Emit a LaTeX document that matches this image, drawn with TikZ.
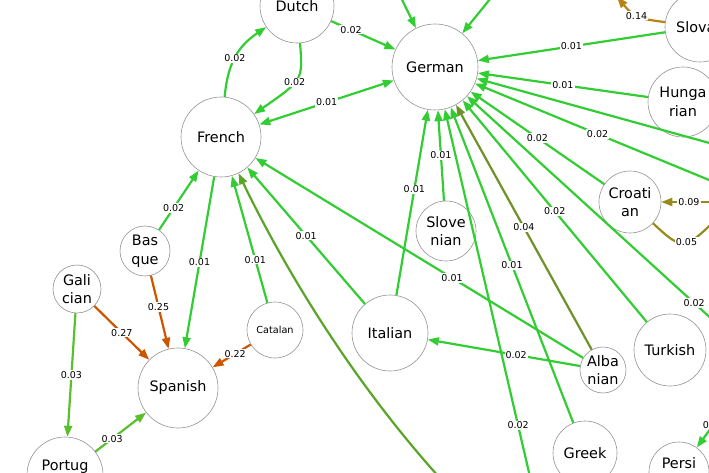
\documentclass[tikz,border=0pt]{standalone}
\usepackage{fontspec}
\setmainfont{DejaVu Sans}
\usetikzlibrary{arrows.meta}
\definecolor{lgrn}{RGB}{50,205,50}
\definecolor{pgrn}{RGB}{90,190,45}
\definecolor{dgrn}{RGB}{90,165,40}
\definecolor{olv}{RGB}{110,145,40}
\definecolor{olvb}{RGB}{150,140,30}
\definecolor{orng}{RGB}{204,85,0}
\definecolor{gold}{RGB}{185,130,20}

\begin{document}
\begin{tikzpicture}[x=1pt,y=-1pt,>={Triangle[length=11pt,width=8pt]},
    lang/.style={circle,draw=gray!85,line width=0.6pt,fill=white,inner sep=0pt,align=center,font=\fontsize{14.4}{18.5}\selectfont},
    small/.style={font=\fontsize{9.7}{11}\selectfont},
    lbl/.style={fill=white,inner sep=1pt,font=\fontsize{9.5}{11}\selectfont},
    e/.style={->,line width=2.2pt,draw=#1},e/.default=lgrn]
    \path[use as bounding box] (0,0) rectangle (709,473);
    \clip (0,0) rectangle (709,473);
    \node[lang,minimum size=74pt] (Dutch) at (297,6) {Dutch};
    \node[lang,minimum size=86pt] (German) at (435,67) {German};
    \node[lang,minimum size=80pt] (French) at (221,137) {French};
    \node[lang,minimum size=70pt] (Slovak) at (700,27) {Slovak};
    \node[lang,minimum size=70pt] (Hungarian) at (683,102) {Hunga\\rian};
    \node[lang,minimum size=62pt] (Croatian) at (630,202) {Croati\\an};
    \node[lang,minimum size=60pt] (Slovenian) at (446,231) {Slove\\nian};
    \node[lang,minimum size=76pt] (Italian) at (390,333) {Italian};
    \node[lang,minimum size=46pt] (Albanian) at (603,370) {Alba\\nian};
    \node[lang,minimum size=72pt] (Turkish) at (670,350) {Turkish};
    \node[lang,minimum size=64pt] (Greek) at (585,453) {Greek};
    \node[lang,minimum size=60pt] (Persian) at (679,472) {Persi\\an};
    \node[lang,minimum size=56pt,small] (Catalan) at (275,330) {Catalan};
    \node[lang,minimum size=80pt] (Spanish) at (178,388) {Spanish};
    \node[lang,minimum size=50pt] (Basque) at (145,251) {Bas\\que};
    \node[lang,minimum size=48pt] (Galician) at (77,289) {Gali\\cian};
    \node[lang,minimum size=76pt] (Portuguese) at (65,475) {Portug\\uese};
    \coordinate (nG1) at (385,-35); \coordinate (nG2) at (520,-38);
    \coordinate (eG1) at (760,157); \coordinate (eG2) at (760,201); \coordinate (eG3) at (760,363);
    \coordinate (sG) at (540,520); \coordinate (sF) at (475,515);
    \coordinate (nSk) at (617,-3); \coordinate (eC1) at (760,202); \coordinate (eC2) at (735,200);
    \coordinate (eP) at (730,402);
    \draw[e] (French) .. controls (228,60) and (240,45) .. (Dutch) node[lbl,pos=.45]{0.02};
    \draw[e] (Dutch) .. controls (303,80) .. (French) node[lbl,pos=.55]{0.02};
    \draw[e] (Dutch) -- node[lbl,pos=.31]{0.02} (German);
    \draw[e,<->] (French) -- node[lbl]{0.01} (German);
    \draw[e] (nG1) -- (German);
    \draw[e] (nG2) -- (German);
    \draw[e] (Slovak) -- node[lbl]{0.01} (German);
    \draw[e] (Hungarian) -- node[lbl]{0.01} (German);
    \draw[e] (eG1) -- (German);
    \draw[e] (eG2) -- node[lbl,pos=.57]{0.02} (German);
    \draw[e] (Croatian) -- node[lbl]{0.02} (German);
    \draw[e] (Turkish) -- node[lbl]{0.02} (German);
    \draw[e] (eG3) -- node[lbl,pos=.225]{0.02} (German);
    \draw[e=olv] (Albanian) -- node[lbl]{0.04} (German);
    \draw[e] (Greek) -- node[lbl]{0.01} (German);
    \draw[e] (sG) -- node[lbl,pos=.23]{0.02} (German);
    \draw[e] (Slovenian) -- node[lbl]{0.01} (German);
    \draw[e] (Italian) -- node[lbl,pos=.57]{0.01} (German);
    \draw[e] (Basque) -- node[lbl,pos=.37]{0.02} (French);
    \draw[e] (French) -- node[lbl]{0.01} (Spanish);
    \draw[e] (Catalan) -- node[lbl,pos=.34]{0.01} (French);
    \draw[e] (Italian) -- node[lbl]{0.01} (French);
    \draw[e] (Albanian) -- node[lbl,pos=.4]{0.01} (French);
    \draw[e=dgrn] (sF) .. controls (370,410) and (290,280) .. (French);
    \draw[e=orng] (Basque) -- node[lbl,pos=.43]{0.25} (Spanish);
    \draw[e=orng] (Galician) -- node[lbl]{0.27} (Spanish);
    \draw[e=orng] (Catalan) -- node[lbl,pos=.41]{0.22} (Spanish);
    \draw[e=pgrn] (Portuguese) -- node[lbl,pos=.33]{0.03} (Spanish);
    \draw[e=pgrn] (Galician) -- node[lbl]{0.03} (Portuguese);
    \draw[e] (Albanian) -- node[lbl,pos=.42]{0.02} (Italian);
    \draw[e=olvb] (eC1) -- node[lbl,pos=.72]{0.09} (Croatian);
    \draw[e=olvb] (Croatian) .. controls (684,252) .. (eC2) node[lbl,pos=.5]{0.05};
    \draw[e=gold] (Slovak) .. controls (635,18) .. (nSk) node[lbl,pos=.5]{0.14};
    \draw[e] (eP) -- node[lbl,pos=.5]{0.02} (Persian);
\end{tikzpicture}
\end{document}
